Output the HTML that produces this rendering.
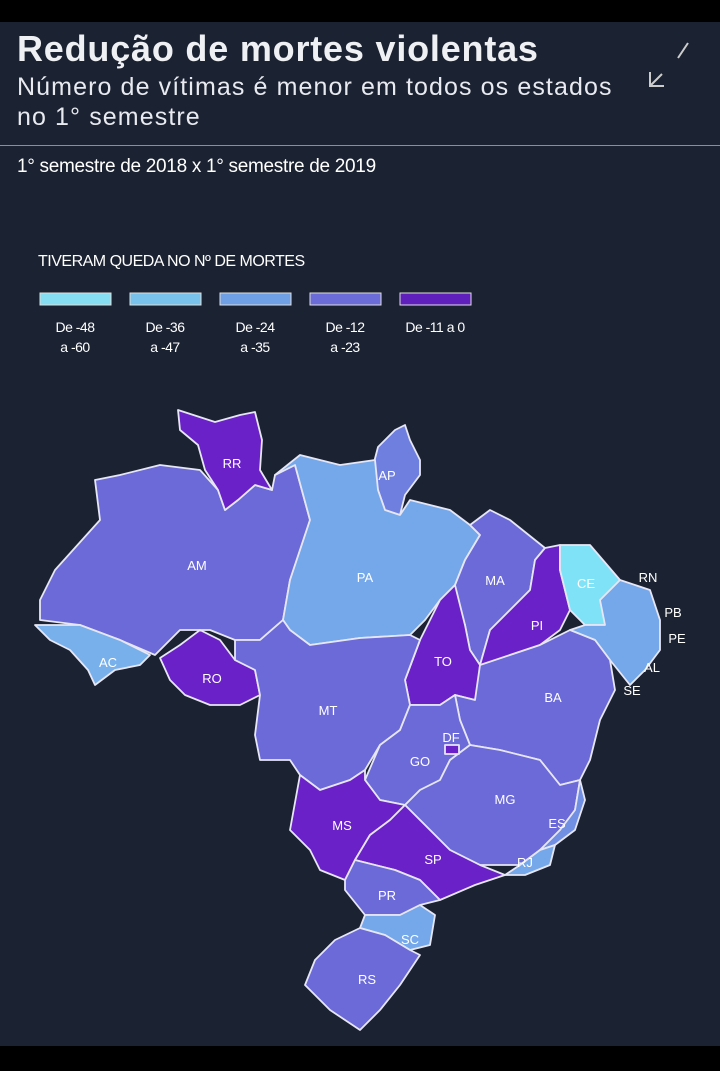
<!DOCTYPE html>
<html><head><meta charset="utf-8"><style>
html,body{margin:0;padding:0;}
body{width:720px;height:1071px;background:#1b2231;position:relative;overflow:hidden;font-family:"Liberation Sans",sans-serif;color:#fff;}
.bar{position:absolute;left:0;width:720px;background:#000;}
.t{position:absolute;white-space:nowrap;}
</style></head><body>
<div class="bar" style="top:0;height:22px"></div>
<div class="bar" style="top:1046px;height:25px"></div>
<div class="t" style="left:17px;top:28px;font-size:36px;font-weight:bold;color:#eef0f4;letter-spacing:0.8px">Redução de mortes violentas</div>
<div class="t" style="left:17px;top:72px;font-size:25px;color:#e8eaf0;line-height:30px;letter-spacing:1.1px">Número de vítimas é menor em todos os estados<br>no 1° semestre</div>
<div style="position:absolute;left:0;top:145px;width:720px;height:1px;background:#8a8f99"></div>
<div class="t" style="left:17px;top:156px;font-size:19px;letter-spacing:-0.3px">1° semestre de 2018 x 1° semestre de 2019</div>
<div class="t" style="left:38px;top:253px;font-size:16px;letter-spacing:-0.5px">TIVERAM QUEDA NO Nº DE MORTES</div>
<svg style="position:absolute;left:0;top:0" width="720" height="1071">
<g stroke="#ccc" stroke-width="2" fill="none"><line x1="678" y1="58" x2="688" y2="43"/><path d="M650 72 L650 86 L664 86 M650 86 L662 74"/></g>
<g stroke="#ddd" stroke-width="1">
<rect x="40" y="293" width="71" height="12" fill="#86def3"/>
<rect x="130" y="293" width="71" height="12" fill="#79c2ec"/>
<rect x="220" y="293" width="71" height="12" fill="#6fa0e6"/>
<rect x="310" y="293" width="71" height="12" fill="#6c6cd8"/>
<rect x="400" y="293" width="71" height="12" fill="#5e1fbd"/>
</g>
<g font-size="14" fill="#fff" text-anchor="middle" font-family="Liberation Sans" letter-spacing="-0.5">
<text x="75" y="332">De -48</text><text x="75" y="352">a -60</text>
<text x="165" y="332">De -36</text><text x="165" y="352">a -47</text>
<text x="255" y="332">De -24</text><text x="255" y="352">a -35</text>
<text x="345" y="332">De -12</text><text x="345" y="352">a -23</text>
<text x="435" y="332">De -11 a 0</text>
</g>
<g stroke="#e6e6f5" stroke-width="1.8" stroke-linejoin="round">
<polygon fill="#6b6ad8" points="40,600 55,570 100,520 95,480 120,475 160,465 200,470 218,490 225,510 238,500 255,485 272,490 275,475 295,465 310,520 300,550 290,580 283,620 260,640 235,640 210,630 180,630 155,655 120,640 80,625 40,620"/>
<polygon fill="#6a21c8" points="178,410 215,422 240,415 255,412 262,440 260,470 272,490 255,485 238,500 225,510 218,490 205,470 198,445 180,430"/>
<polygon fill="#6f7fe0" points="378,447 395,430 405,425 410,440 420,460 420,475 405,495 400,515 385,510 378,490 372,470"/>
<polygon fill="#78b0ec" points="35,625 80,625 120,640 150,655 140,665 115,670 95,685 88,670 70,650 50,640"/>
<polygon fill="#6a21c8" points="160,658 180,645 200,630 220,640 235,660 255,670 260,695 240,705 210,705 185,695 170,680"/>
<polygon fill="#74a8ea" points="275,475 300,455 340,465 375,460 378,490 385,510 400,515 410,500 430,505 450,510 470,525 480,535 465,560 455,585 440,600 425,620 410,635 360,638 310,645 290,630 283,620 290,580 300,550 310,520 295,465"/>
<polygon fill="#6b6ad8" points="470,525 490,510 510,520 545,548 535,560 530,590 510,610 490,630 480,665 470,650 465,625 455,600 455,585 465,560 480,535"/>
<polygon fill="#6a21c8" points="455,585 465,625 470,650 480,665 478,690 475,700 455,695 440,705 410,705 405,680 420,640 430,620 440,600"/>
<polygon fill="#6a21c8" points="545,548 560,545 560,570 570,610 560,630 540,645 510,655 490,668 480,665 490,630 510,610 530,590 535,560"/>
<polygon fill="#80e2f6" points="560,545 590,545 620,580 605,600 605,625 585,625 570,610 560,570"/>
<polygon fill="#74a8ea" points="600,600 620,580 650,590 660,620 660,650 645,670 630,685 610,660 595,640 570,630 585,625 605,625"/>
<polygon fill="#6b6ad8" points="480,665 510,655 540,645 570,630 595,640 610,660 615,690 600,720 590,760 580,780 560,785 540,760 500,750 470,745 460,720 455,695 475,700"/>
<polygon fill="#6b6ad8" points="235,640 260,640 283,620 290,630 310,645 360,638 410,635 420,640 405,680 410,705 400,730 380,745 365,770 350,780 320,790 300,775 290,760 260,760 255,735 260,695 255,670 235,660"/>
<polygon fill="#6b6ad8" points="400,730 410,705 440,705 455,695 460,720 470,745 450,760 440,780 420,790 405,805 380,800 365,780 380,745"/>
<polygon fill="#6b6ad8" points="470,745 500,750 540,760 560,785 580,780 575,810 560,830 540,850 520,865 480,865 450,850 430,830 405,805 420,790 440,780 450,760"/>
<polygon fill="#7190e4" points="580,780 585,800 575,830 555,845 540,850 560,830 575,810"/>
<polygon fill="#74a8ea" points="520,865 540,850 555,845 550,865 525,875 505,875"/>
<polygon fill="#6a21c8" points="300,775 320,790 350,780 365,770 365,780 380,800 405,805 390,820 370,835 355,860 345,880 320,870 310,850 290,830"/>
<polygon fill="#6a21c8" points="405,805 430,830 450,850 480,865 505,875 475,885 440,900 420,880 395,870 355,860 370,835 390,820"/>
<polygon fill="#6b6ad8" points="355,860 395,870 420,880 440,900 420,905 400,915 365,915 345,890 345,880"/>
<polygon fill="#74a8ea" points="365,915 400,915 420,905 435,915 430,945 410,950 385,935 360,928"/>
<polygon fill="#6b6ad8" points="360,928 385,935 410,950 420,955 400,985 380,1010 360,1030 330,1010 305,985 315,960 335,940"/>
<rect x="445" y="745" width="14" height="9" fill="#6a21c8"/>
</g>
<g font-size="13" fill="#fff" text-anchor="middle" font-family="Liberation Sans">
<text x="232" y="468">RR</text><text x="387" y="480">AP</text><text x="197" y="570">AM</text>
<text x="365" y="582">PA</text><text x="495" y="585">MA</text><text x="586" y="588">CE</text>
<text x="648" y="582">RN</text><text x="673" y="617">PB</text><text x="677" y="643">PE</text>
<text x="652" y="672">AL</text><text x="632" y="695">SE</text><text x="537" y="630">PI</text>
<text x="108" y="667">AC</text><text x="212" y="683">RO</text><text x="443" y="666">TO</text>
<text x="553" y="702">BA</text><text x="328" y="715">MT</text><text x="451" y="742">DF</text>
<text x="420" y="766">GO</text><text x="505" y="804">MG</text><text x="557" y="828">ES</text>
<text x="342" y="830">MS</text><text x="433" y="864">SP</text><text x="525" y="867">RJ</text>
<text x="387" y="900">PR</text><text x="410" y="944">SC</text><text x="367" y="984">RS</text>
</g>
</svg>
</body></html>
